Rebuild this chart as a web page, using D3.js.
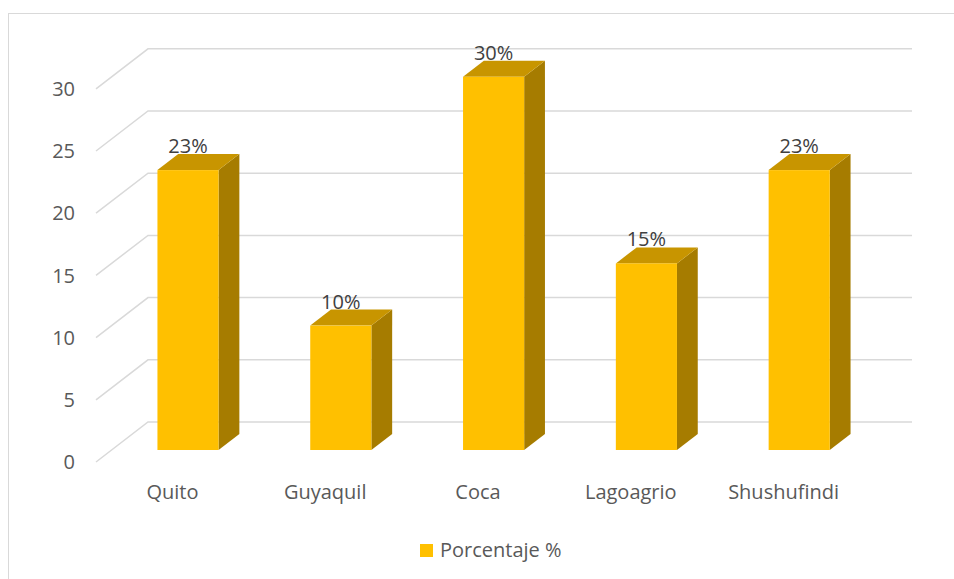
<!DOCTYPE html>
<html>
<head>
<meta charset="utf-8">
<script src="https://cdn.jsdelivr.net/npm/d3@7"></script>
<style>
  html, body { margin: 0; padding: 0; background: #fff; }
  svg { display: block; font-family: "Open Sans", "Noto Sans", sans-serif; }
</style>
</head>
<body>
<svg id="chart" width="954" height="579"></svg>
<script>
// Distribución por ciudad
const categories = ["Quito", "Guyaquil", "Coca", "Lagoagrio", "Shushufindi"];
const values = [22.5, 10, 30, 15, 22.5];
const yTicks = [0, 5, 10, 15, 20, 25, 30];
const seriesName = "Porcentaje %";

const svg = d3.select("#chart");

// Outer chart frame
svg.append("rect")
  .attr("x", 8.5).attr("y", 13.5)
  .attr("width", 960).attr("height", 580)
  .attr("fill", "none").attr("stroke", "#d9d9d9").attr("stroke-width", 1);

// Front plane scales; depth is an oblique offset toward the back wall
const x = d3.scaleBand().domain(categories).range([96, 860])
  .paddingInner(0.6).paddingOuter(0.3);
const y = d3.scaleLinear().domain([0, 30]).range([462, 88.8]);
const depth = [52, -40];
const off = t => [depth[0] * t, depth[1] * t];
const barT0 = 0.3, barT1 = 0.7;

const grid = svg.append("g").attr("stroke", "#d9d9d9").attr("stroke-width", 1.5).attr("fill", "none");
// Side wall diagonals + back wall gridlines
grid.selectAll("path.g").data(yTicks).join("path")
  .attr("class", "g")
  .attr("d", v => {
    const [bx, by] = off(1);
    return `M${x.range()[0]},${y(v)} L${x.range()[0] + bx},${y(v) + by} L${x.range()[1] + bx},${y(v) + by}`;
  });

// Value axis labels
svg.append("g").selectAll("text").data(yTicks).join("text")
  .attr("x", 75).attr("y", v => y(v))
  .attr("dy", "0.36em")
  .attr("text-anchor", "end")
  .attr("font-size", 20).attr("fill", "#595959")
  .text(d => d);

// Category labels
svg.append("g").selectAll("text").data(categories).join("text")
  .attr("x", c => x(c) + x.bandwidth() / 2)
  .attr("y", 499)
  .attr("text-anchor", "middle")
  .attr("font-size", 20).attr("fill", "#595959")
  .text(d => d);

// 3D columns
const data = categories.map((c, i) => ({ c, v: values[i] }));
const [f0x, f0y] = off(barT0);
const [dX, dY] = off(barT1 - barT0);
const bars = svg.append("g").selectAll("g").data(data).join("g");

bars.append("path") // side face
  .attr("fill", "#a67c00")
  .attr("d", d => {
    const x1 = x(d.c) + f0x + x.bandwidth(), yt = y(d.v) + f0y, yb = y(0) + f0y;
    return `M${x1},${yt} L${x1 + dX},${yt + dY} L${x1 + dX},${yb + dY} L${x1},${yb} Z`;
  });
bars.append("path") // top face
  .attr("fill", "#c89500")
  .attr("d", d => {
    const x0 = x(d.c) + f0x, x1 = x0 + x.bandwidth(), yt = y(d.v) + f0y;
    return `M${x0},${yt} L${x1},${yt} L${x1 + dX},${yt + dY} L${x0 + dX},${yt + dY} Z`;
  });
bars.append("rect") // front face
  .attr("fill", "#ffc000")
  .attr("x", d => x(d.c) + f0x)
  .attr("y", d => y(d.v) + f0y)
  .attr("width", x.bandwidth())
  .attr("height", d => y(0) - y(d.v));

// Data labels
bars.append("text")
  .attr("x", d => x(d.c) + f0x + x.bandwidth() / 2)
  .attr("y", d => y(d.v) + f0y + dY - 1)
  .attr("text-anchor", "middle")
  .attr("font-size", 20).attr("fill", "#404040")
  .text(d => Math.round(d.v) + "%");

// Legend
const legend = svg.append("g").attr("transform", "translate(420,544)");
legend.append("rect").attr("width", 13).attr("height", 13).attr("fill", "#ffc000");
legend.append("text").attr("x", 20).attr("y", 13)
  .attr("font-size", 20).attr("fill", "#595959")
  .text(seriesName);
</script>
</body>
</html>
